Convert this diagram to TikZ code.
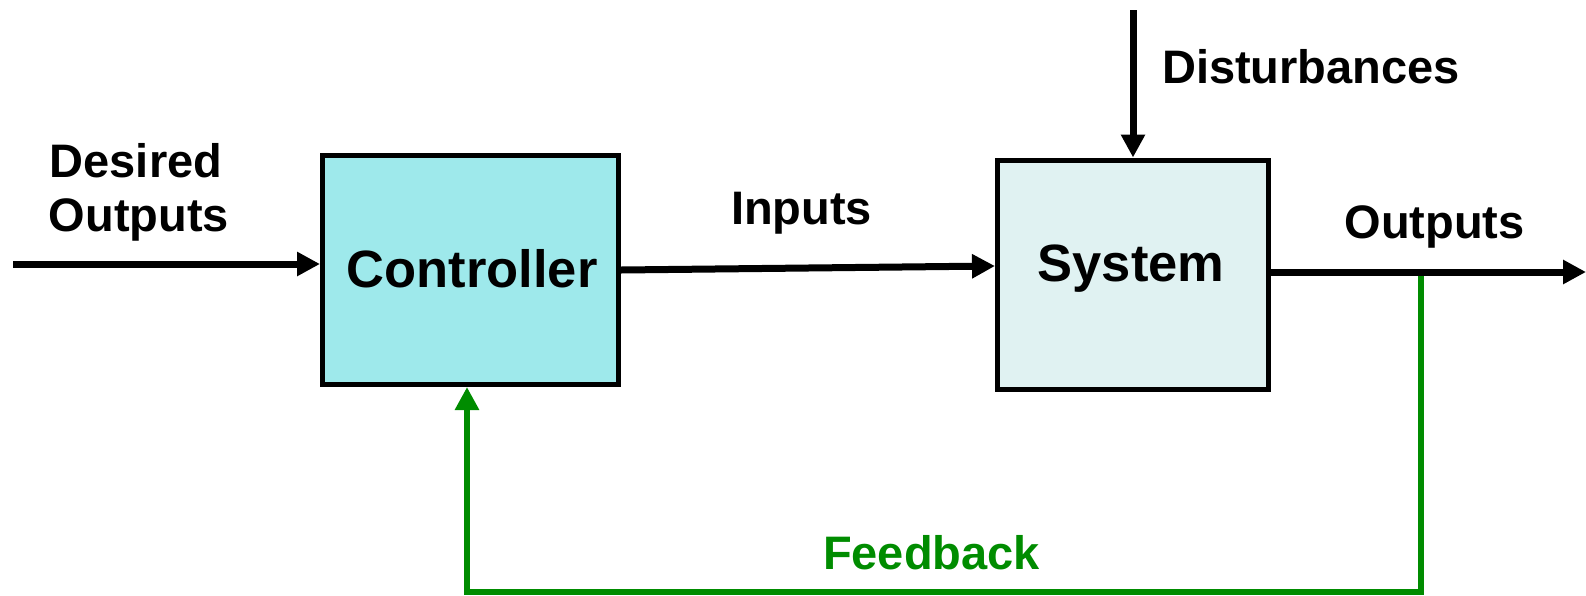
\documentclass[tikz,border=0pt]{standalone}
\usepackage{fontspec}
\setmainfont{Liberation Sans}
\usetikzlibrary{arrows.meta,calc}
\definecolor{ctrlfill}{HTML}{9EE9EB}
\definecolor{sysfill}{HTML}{E0F2F2}
\definecolor{fbgreen}{HTML}{008C00}

\begin{document}
\begin{tikzpicture}[x=1pt,y=-1pt,
  block/.style={draw=black, line width=5pt, inner sep=0pt},
  lbl/.style={inner sep=0pt, anchor=base, font=\bfseries\fontsize{47}{55}\selectfont},
  blocklbl/.style={inner sep=0pt, anchor=base, font=\bfseries\fontsize{52.5}{60}\selectfont},
  sig/.style={draw=black, line width=7pt, -{Triangle[length=23pt,width=23pt]}},
  fb/.style={draw=fbgreen, line width=6pt, -{Triangle[length=23pt,width=23pt]}},
]
\useasboundingbox (0,0) rectangle (1586,595);

% blocks
\node[block, fill=ctrlfill, minimum width=296pt, minimum height=229pt] (ctrl) at (470.5,270) {};
\node[block, fill=sysfill, minimum width=271pt, minimum height=229pt] (sys) at (1133,274.5) {};
\node[blocklbl] (ctrltxt) at (472,287) {Controller};
\node[blocklbl] (systxt) at (1131,281) {System};

% free ends of the signals
\coordinate (refin) at (13,264);
\coordinate (distin) at (1133,10);
\coordinate (outend) at (1586,272);
\coordinate (tap) at (1421,272);
\coordinate (fbcorner) at (1421,592);

% feedback path
\draw[fb] (tap) -- (fbcorner) -| ([xshift=-3.5pt]ctrl.south);

% signals
\draw[sig] (refin) -- ([yshift=6pt]ctrl.west);
\draw[sig] (ctrl.east) -- ([yshift=8.5pt]sys.west);
\draw[sig] (distin) -- (sys.north);
\draw[sig] ([yshift=2.5pt]sys.east) -- (outend);

% labels
\node[lbl] (des1) at (136,177.5) {Desired};
\node[lbl] (des2) at (139,231) {Outputs};
\node[lbl] (inp) at (801.5,224.5) {Inputs};
\node[lbl] (dist) at (1311,83.5) {Disturbances};
\node[lbl] (outp) at (1434.5,238.5) {Outputs};
\node[lbl, text=fbgreen] (fbl) at (931.5,569) {Feedback};
\end{tikzpicture}
\end{document}
